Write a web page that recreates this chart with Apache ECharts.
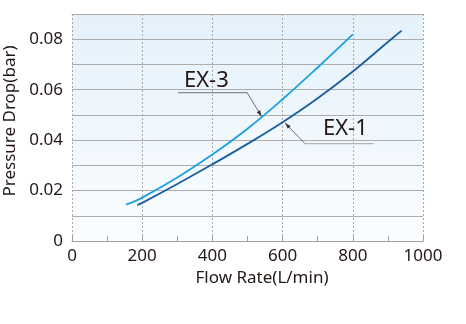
<!DOCTYPE html>
<html>
<head>
<meta charset="utf-8">
<script src="https://cdn.jsdelivr.net/npm/echarts@6/dist/echarts.min.js"></script>
<style>
html,body{margin:0;padding:0;background:#fff;}
#c{width:466px;height:324px;}
</style>
</head>
<body>
<div id="c"></div>
<script>
// ---- data ----
const ex3Flow = [154, 200, 300, 400, 500, 600, 700, 800];
const ex3Drop = [0.0144, 0.0172, 0.0252, 0.0343, 0.0445, 0.0562, 0.0688, 0.0819];
const ex1Flow = [186, 200, 300, 400, 500, 600, 700, 800, 900, 939];
const ex1Drop = [0.0142, 0.0151, 0.0226, 0.0304, 0.0385, 0.0471, 0.0566, 0.0672, 0.0789, 0.0834];
const xTicks = [0, 200, 400, 600, 800, 1000];
const yTicks = [0, 0.02, 0.04, 0.06, 0.08];
const seriesNames = ['EX-3', 'EX-1'];
// annotation anchors in data coordinates
const ex3Note = {line: [[302, 0.0588], [499, 0.0588]], tip: [540, 0.0494], text: [319, 0.0593]};
const ex1Note = {line: [[860, 0.0386], [664, 0.0386]], tip: [607, 0.0468], text: [715, 0.0401]};

const textColor = '#231815';
const font = '"Noto Sans", "Open Sans", sans-serif';

const chart = echarts.init(document.getElementById('c'), null, {renderer: 'canvas'});
const zip = (a, b) => a.map((v, i) => [v, b[i]]);

chart.setOption({
  animation: false,
  grid: {
    left: 72, right: 43, top: 14, bottom: 83,
    containLabel: false, outerBoundsMode: 'none',
    show: true, borderWidth: 0,
    backgroundColor: new echarts.graphic.LinearGradient(0, 0, 0, 1, [
      {offset: 0, color: '#e4f1fb'},
      {offset: 1, color: '#fbfdff'}
    ])
  },
  xAxis: [{
    type: 'value', min: xTicks[0], max: xTicks[xTicks.length - 1], interval: 200,
    name: 'Flow Rate(L/min)', nameLocation: 'middle', nameGap: 28,
    nameTextStyle: {color: textColor, fontSize: 17, fontFamily: font, padding: [0, 0, 0, 29]},
    axisLine: {show: true, lineStyle: {color: '#a0a0a0', width: 1}},
    axisTick: {show: true, inside: true, length: 5, lineStyle: {color: '#a0a0a0'}},
    minorTick: {show: true, splitNumber: 2, length: 5, lineStyle: {color: '#a0a0a0'}},
    axisLabel: {color: textColor, fontSize: 17, fontFamily: font, margin: 7,
      formatter: v => String(Math.round(v))},
    splitLine: {show: true, lineStyle: {color: '#a8a8a8', type: [2, 2], width: 1}}
  }, {
    type: 'value', position: 'top', min: 0, max: 1000,
    axisLine: {show: true, lineStyle: {color: '#b0b0b0', type: [2, 2], width: 1}},
    axisTick: {show: false}, axisLabel: {show: false}, splitLine: {show: false}
  }],
  yAxis: {
    type: 'value', min: 0, max: 0.09, interval: 0.01,
    name: 'Pressure Drop(bar)', nameLocation: 'middle', nameGap: 48,
    nameTextStyle: {color: textColor, fontSize: 17, fontFamily: font, padding: [0, 0, 0, 13]},
    axisLine: {show: false}, axisTick: {show: false},
    axisLabel: {
      color: textColor, fontSize: 17, fontFamily: font, margin: 9,
      formatter: v => {
        const r = Math.round(v * 100) / 100;
        const hit = yTicks.find(t => Math.abs(t - r) < 1e-9);
        if (hit === undefined) return '';
        return hit === 0 ? '0' : hit.toFixed(2);
      }
    },
    splitLine: {show: true, lineStyle: {color: '#acacac', width: 1}}
  },
  series: [{
    name: seriesNames[0], type: 'line', data: zip(ex3Flow, ex3Drop),
    smooth: 0.4, showSymbol: false, symbol: 'none',
    lineStyle: {color: '#1ba1e2', width: 1.8}
  }, {
    name: seriesNames[1], type: 'line', data: zip(ex1Flow, ex1Drop),
    smooth: 0.4, showSymbol: false, symbol: 'none',
    lineStyle: {color: '#1a5e9e', width: 1.8}
  }]
});

function px(p) { return chart.convertToPixel({gridIndex: 0}, p); }
function arrowHead(from, to, len, half) {
  const dx = to[0] - from[0], dy = to[1] - from[1];
  const L = Math.hypot(dx, dy), ux = dx / L, uy = dy / L;
  const bx = to[0] - ux * len, by = to[1] - uy * len;
  return [[to[0], to[1]], [bx - uy * half, by + ux * half], [bx + uy * half, by - ux * half]];
}
function note(n, label, underColor) {
  const a = px(n.line[0]), b = px(n.line[1]), t = px(n.tip), tp = px(n.text);
  return [
    {type: 'line', shape: {x1: a[0], y1: a[1], x2: b[0], y2: b[1]}, style: {stroke: underColor, lineWidth: 1.2}, z: 100},
    {type: 'line', shape: {x1: b[0], y1: b[1], x2: t[0], y2: t[1]}, style: {stroke: '#4a4a4a', lineWidth: 0.8}, z: 100},
    {type: 'polygon', shape: {points: arrowHead(b, t, 6, 2)}, style: {fill: '#333'}, z: 100},
    {type: 'text', x: tp[0], y: tp[1], style: {text: label, fill: textColor, font: '22px ' + font, textVerticalAlign: 'bottom', verticalAlign: 'bottom'}, z: 100}
  ];
}
chart.setOption({graphic: [].concat(note(ex3Note, seriesNames[0], '#8a8a8a'), note(ex1Note, seriesNames[1], '#b4b4b4'))});
</script>
</body>
</html>
